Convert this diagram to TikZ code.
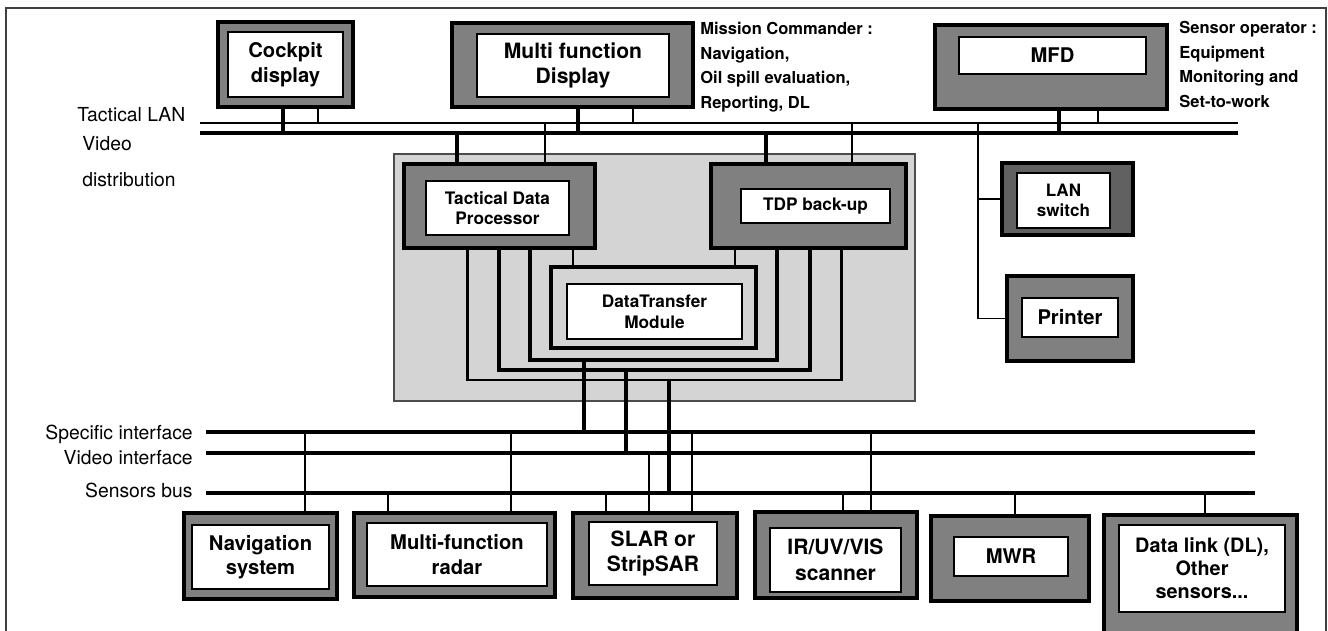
\documentclass[tikz,border=0pt]{standalone}
\usepackage{fontspec}
\setmainfont{TeX Gyre Heros}
\begin{document}
\begin{tikzpicture}[x=0.02cm, y=-0.02cm, line cap=butt,
  obox/.style={draw=black, line width=1.9pt, fill=black!50, inner sep=0pt},
  ibox/.style={draw=black, line width=0.8pt, fill=white, inner sep=0pt, align=center, font=\fontsize{11.5}{14}\selectfont\bfseries},
  small/.style={font=\fontsize{9.8}{11.5}\selectfont\bfseries},
  big/.style={font=\fontsize{12}{14.2}\selectfont\bfseries},
  buslab/.style={inner sep=0pt, font=\fontsize{11}{13}\selectfont},
  note/.style={inner sep=0pt, anchor=north west, align=left, font=\fontsize{9.4}{14}\selectfont\bfseries},
  thk/.style={line width=2.1pt}, thn/.style={line width=1.1pt}]
\clip (0,0) rectangle (1328,631);
\fill[white] (0,0) rectangle (1328,631);
% frame
\draw[line width=0.8pt, black!75] (6,631) |- (1326,8) -- (1326,631);
% processing panel
\node[draw=black!70, line width=0.8pt, fill=black!17, inner sep=0pt, minimum width=10.42cm, minimum height=4.94cm] (panel) at (654.5,277.5) {};
% buses
\coordinate (lan) at (200,123); \coordinate (vid) at (200,133);
\coordinate (spec) at (206,432); \coordinate (vint) at (206,453); \coordinate (sens) at (206,493);
\draw[line width=1.2pt] (lan) -- (1238,123);
\draw[line width=2.3pt] (vid) -- (1238,133);
\draw[line width=2.3pt] (spec) -- (1255,432);
\draw[line width=2pt] (vint) -- (1255,453);
\draw[line width=2pt] (sens) -- (1255,493);
% bus labels
\node[buslab, anchor=base west] (tlan) at (77,122) {Tactical LAN};
\node[buslab, anchor=base west] (vd1) at (82,151) {Video};
\node[buslab, anchor=base west] (vd2) at (82,187) {distribution};
\node[buslab, anchor=base east] (lspec) at (193,439) {Specific interface};
\node[buslab, anchor=base east] (lvint) at (193,464) {Video interface};
\node[buslab, anchor=base east] (lsens) at (193,497) {Sensors bus};
% operator notes
\node[note] (mcnote) at (700,22) {Mission Commander :\\Navigation,\\Oil spill evaluation,\\Reporting, DL};
\node[note] (sonote) at (1179,21) {Sensor operator :\\Equipment\\Monitoring and\\Set-to-work};
% top displays
\node[obox, minimum width=2.70cm, minimum height=1.70cm] (cockpit) at (285.5,64.5) {};
\node[ibox, minimum width=2.30cm, minimum height=1.30cm] (cockpitIn) at (285.5,64.5) {Cockpit\\display};
\node[obox, minimum width=4.82cm, minimum height=1.68cm] (mfdisp) at (572.5,65) {};
\node[ibox, big, minimum width=3.84cm, minimum height=1.26cm] (mfdispIn) at (573,65.5) {Multi function\\Display};
\node[obox, minimum width=4.64cm, minimum height=1.68cm] (mfd) at (1051,67) {};
\node[ibox, minimum width=3.74cm, minimum height=0.74cm] (mfdIn) at (1052.5,55.5) {MFD};
% processors
\node[obox, minimum width=3.82cm, minimum height=1.68cm] (tdp) at (499.5,206) {};
\node[ibox, small, minimum width=2.86cm, minimum height=1.08cm] (tdpIn) at (497.5,208) {Tactical Data\\Processor};
\node[obox, minimum width=3.90cm, minimum height=1.68cm] (tdpb) at (808.5,206) {};
\node[ibox, small, minimum width=2.98cm, minimum height=0.68cm] (tdpbIn) at (815.5,206) {TDP back-up};
\node[obox, fill=black!17, minimum width=4.10cm, minimum height=1.62cm] (dtm) at (653.5,307.5) {};
\node[ibox, small, font=\fontsize{9.8}{12}\selectfont\bfseries, minimum width=3.50cm, minimum height=1.10cm] (dtmIn) at (654.5,311.5) {DataTransfer\\Module};
% LAN switch and printer
\node[obox, fill=black!62, minimum width=2.62cm, minimum height=1.44cm] (lansw) at (1067.5,199) {};
\node[ibox, font=\fontsize{9.7}{11.4}\selectfont\bfseries, minimum width=1.86cm, minimum height=1.10cm] (lanswIn) at (1063.5,200.5) {LAN\\switch};
\node[obox, minimum width=2.52cm, minimum height=1.70cm] (printer) at (1070,318.5) {};
\node[ibox, minimum width=1.92cm, minimum height=0.78cm] (printerIn) at (1070,317.5) {Printer};
% sensors
\node[obox, minimum width=3.06cm, minimum height=1.72cm] (nav) at (260.5,556) {};
\node[ibox, minimum width=2.74cm, minimum height=1.28cm] (navIn) at (260.5,557) {Navigation\\system};
\node[obox, minimum width=4.02cm, minimum height=1.68cm] (radar) at (454.5,555) {};
\node[ibox, minimum width=3.60cm, minimum height=1.26cm] (radarIn) at (457,554.5) {Multi-function\\radar};
\node[obox, minimum width=3.28cm, minimum height=1.70cm] (slar) at (655,555.5) {};
\node[ibox, big, minimum width=2.56cm, minimum height=1.26cm] (slarIn) at (653,553.5) {SLAR or\\StripSAR};
\node[obox, minimum width=3.24cm, minimum height=1.72cm] (ir) at (836,555) {};
\node[ibox, big, font=\fontsize{12}{14.7}\selectfont\bfseries, minimum width=2.62cm, minimum height=1.28cm] (irIn) at (835.5,560) {IR/UV/VIS\\scanner};
\node[obox, minimum width=3.16cm, minimum height=1.70cm] (mwr) at (1010,558.5) {};
\node[ibox, minimum width=2.28cm, minimum height=0.78cm] (mwrIn) at (1011,556.5) {MWR};
\node[obox, minimum width=3.86cm, minimum height=2.60cm] (dlink) at (1200.5,580) {};
\node[ibox, font=\fontsize{11.3}{13}\selectfont\bfseries, minimum width=3.32cm, minimum height=1.74cm] (dlinkIn) at (1202,568.5) {Data link (DL),\\Other\\sensors...};
% LAN taps
\foreach \n/\a/\b in {cockpit/283/318, mfdisp/578/633, mfd/1059/1098} {
  \draw[thk] (\n.south -| \a,0) -- (\a,0 |- vid);
  \draw[thn] (\n.south -| \b,0) -- (\b,0 |- lan);
}
\foreach \n/\a/\b in {tdp/457/545, tdpb/766/852} {
  \draw[thk] (\a,0 |- vid) -- (\n.north -| \a,0);
  \draw[thn] (\b,0 |- lan) -- (\n.north -| \b,0);
}
\coordinate (drop) at (978,123);
\draw[thn] (drop) |- (printer.west);
\draw[thn] (drop |- lansw.west) -- (lansw.west);
% links inside the panel
\draw[thn] (tdp.south -| 573,0) -- (dtm.north -| 573,0);
\draw[thn] (tdpb.south -| 735,0) -- (dtm.north -| 735,0);
\draw[thk] (tdp.south -| 530,0) |- (777,360) -- (tdpb.south -| 777,0);
\draw[thk] (tdp.south -| 499,0) |- (810,370) -- (tdpb.south -| 810,0);
\draw[line width=1.7pt] (tdp.south -| 467,0) |- (841,380) -- (tdpb.south -| 841,0);
\draw[thk] (584,360) -- (584,0 |- spec);
\draw[thk] (626,370) -- (626,0 |- vint);
\draw[thk] (669,380) -- (669,0 |- sens);
% sensor taps
\foreach \x/\n/\b in {305/nav/spec, 388/radar/sens, 511/radar/spec, 606/slar/sens, 649/slar/vint, 692/slar/spec, 843/ir/sens, 871/ir/spec, 1015/mwr/sens, 1205/dlink/sens}
  \draw[thn] (\x,0 |- \b) -- (\n.north -| \x,0);
\end{tikzpicture}
\end{document}
